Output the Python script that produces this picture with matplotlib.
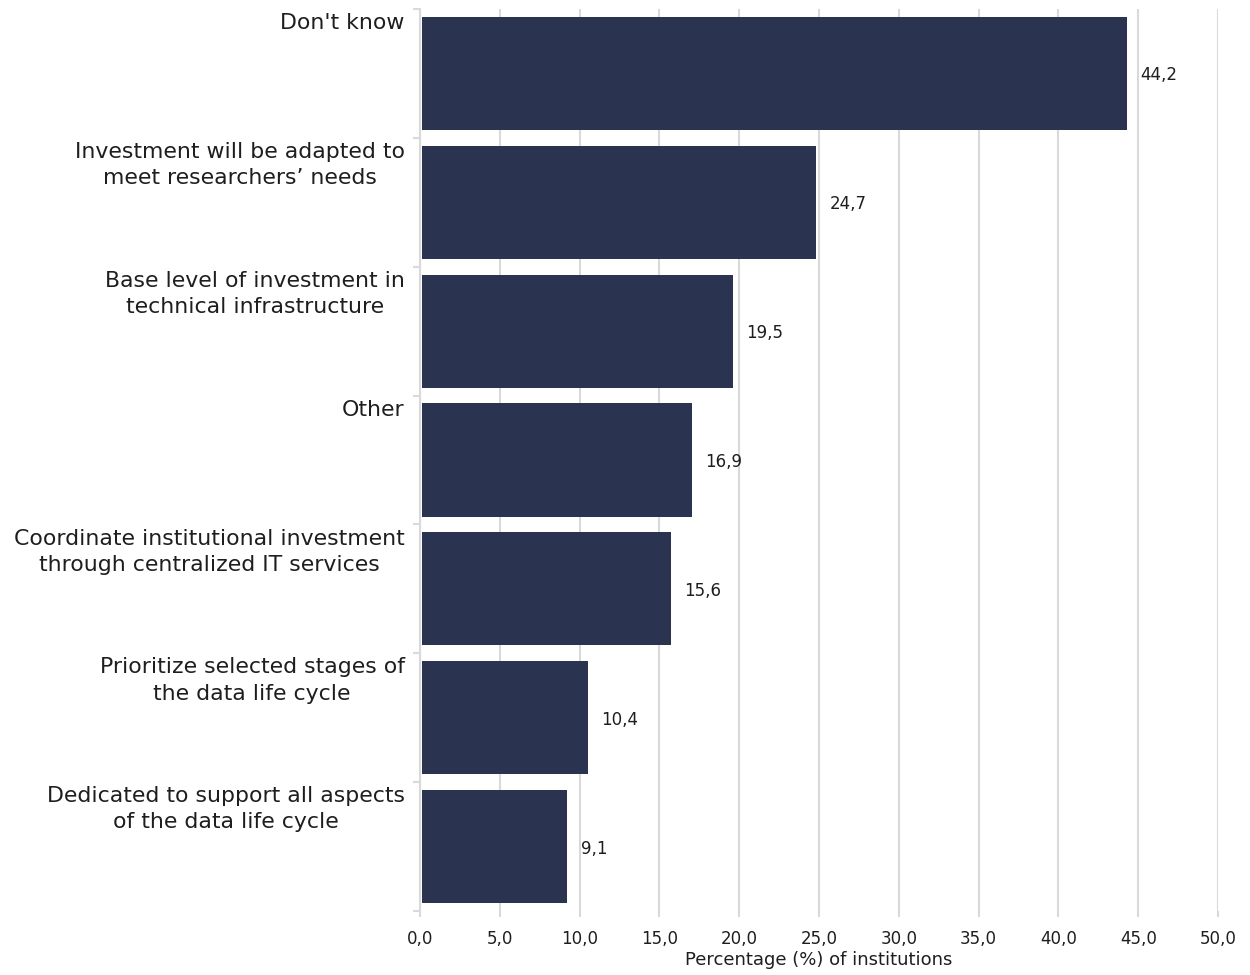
import matplotlib.pyplot as plt
import numpy as np

categories = [
    "Don't know",
    "Investment will be adapted to\nmeet researchers\u2019 needs",
    "Base level of investment in\ntechnical infrastructure",
    "Other",
    "Coordinate institutional investment\nthrough centralized IT services",
    "Prioritize selected stages of\nthe data life cycle",
    "Dedicated to support all aspects\nof the data life cycle",
]
values = [44.2, 24.7, 19.5, 16.9, 15.6, 10.4, 9.1]
x_ticks = [0, 5, 10, 15, 20, 25, 30, 35, 40, 45, 50]

bar_color = "#2a3450"
grid_color = "#d9d9d9"
text_color = "#1e1e1e"

plt.rcParams['font.family'] = ['DejaVu Sans']

fig = plt.figure(figsize=(12.5, 9.75), dpi=100)
ax = fig.add_axes([0.336, 0.0656, 0.6384, 0.9252])

n = len(categories)
pos = np.arange(n)
ax.barh(pos, values, height=0.877, color=bar_color, left=0.12, zorder=3)
ax.set_ylim(n - 0.5, -0.5)
ax.set_xlim(0, 50)

# gridlines
ax.set_xticks(x_ticks)
ax.set_xticklabels([f"{t:.1f}".replace(".", ",") for t in x_ticks],
                   fontsize=12, color=text_color)
ax.xaxis.grid(True, color=grid_color, linewidth=1.5, zorder=0)
ax.tick_params(axis="x", length=4, width=1.5, color=grid_color, pad=10)

# category boundary ticks on the left
ax.set_yticks(np.arange(n + 1) - 0.5)
ax.set_yticklabels([])
ax.tick_params(axis="y", length=5, width=1.5, color=grid_color)

for s in ["top", "right", "bottom"]:
    ax.spines[s].set_visible(False)
ax.spines["left"].set_color(grid_color)
ax.spines["left"].set_linewidth(1.5)

# category labels aligned at the top of each band
for i, lab in enumerate(categories):
    ax.annotate(lab, xy=(0, i - 0.5), xycoords=("axes fraction", "data"),
                xytext=(-11, -3), textcoords="offset points",
                ha="right", va="top", fontsize=15.8, color=text_color,
                linespacing=1.38, multialignment="center")

# value labels
for i, v in enumerate(values):
    ax.annotate(f"{v:.1f}".replace(".", ","), xy=(v, i), xytext=(11, -1.5),
                textcoords="offset points", ha="left", va="center",
                fontsize=12, color=text_color)

ax.set_xlabel("Percentage (%) of institutions", fontsize=13, color=text_color, labelpad=2)

fig.savefig("out.png", dpi=100)
